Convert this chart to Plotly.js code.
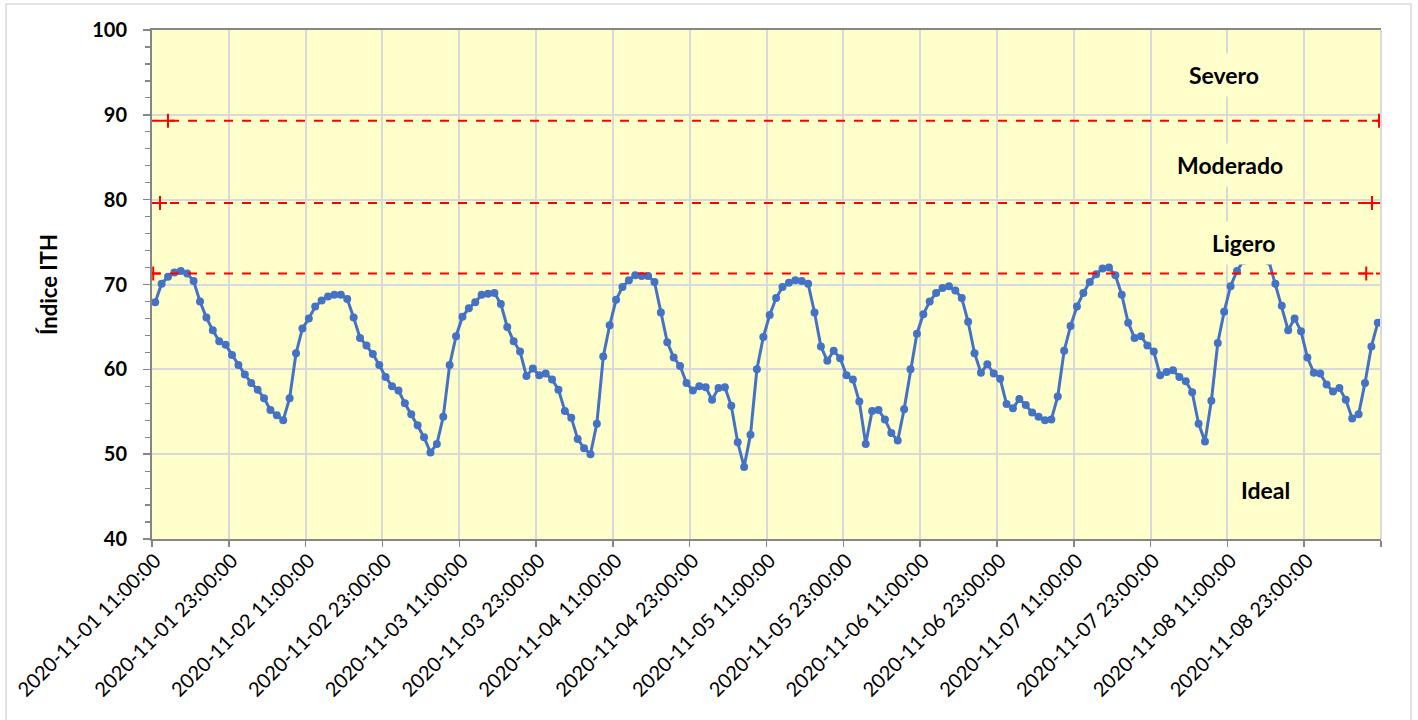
<!DOCTYPE html>
<html>
<head>
<meta charset="utf-8">
<script src="https://cdn.plot.ly/plotly-3.0.1.min.js"></script>
<style>
  html, body { margin: 0; padding: 0; background: #ffffff; }
  #chart { width: 1418px; height: 720px; }
</style>
</head>
<body>
<div id="chart"></div>
<script>
// ---- Data ----
const startTime = "2020-11-01 11:00:00";
const nHours = 192;

// Hourly ITH values
const ith = [
  67.9, 70.1, 70.9, 71.4, 71.6, 71.3, 70.4, 68.0, 66.1, 64.6, 63.3, 62.9, 61.7, 60.5, 59.4, 58.4, 57.6, 56.6, 55.2, 54.6, 54.0, 56.6, 61.9, 64.8,
  66.0, 67.4, 68.1, 68.6, 68.8, 68.8, 68.3, 66.1, 63.7, 62.8, 61.8, 60.5, 59.1, 58.0, 57.5, 56.0, 54.7, 53.4, 52.0, 50.2, 51.2, 54.4, 60.5, 63.9,
  66.2, 67.2, 67.9, 68.8, 68.9, 69.0, 67.7, 65.0, 63.3, 62.1, 59.2, 60.1, 59.3, 59.5, 58.8, 57.6, 55.1, 54.3, 51.8, 50.7, 50.0, 53.6, 61.5, 65.2,
  68.2, 69.7, 70.5, 71.1, 71.0, 71.0, 70.3, 66.7, 63.2, 61.4, 60.4, 58.4, 57.5, 58.0, 57.9, 56.4, 57.8, 57.9, 55.7, 51.4, 48.5, 52.3, 60.0, 63.8,
  66.4, 68.4, 69.7, 70.2, 70.5, 70.4, 70.1, 66.7, 62.7, 61.0, 62.2, 61.3, 59.3, 58.8, 56.2, 51.2, 55.1, 55.2, 54.1, 52.5, 51.6, 55.3, 60.0, 64.2,
  66.5, 68.0, 69.0, 69.6, 69.8, 69.3, 68.4, 65.6, 61.9, 59.6, 60.6, 59.5, 58.9, 55.9, 55.4, 56.5, 55.8, 54.9, 54.4, 54.0, 54.1, 56.8, 62.2, 65.1,
  67.4, 69.0, 70.3, 71.2, 71.9, 72.0, 71.1, 68.8, 65.5, 63.7, 63.9, 62.8, 62.1, 59.3, 59.7, 59.9, 59.1, 58.6, 57.3, 53.6, 51.5, 56.3, 63.1, 66.8,
  69.8, 71.6, 72.8, 74.0, 74.3, 73.9, 72.7, 70.1, 67.5, 64.6, 66.0, 64.5, 61.4, 59.6, 59.5, 58.2, 57.4, 57.8, 56.4, 54.2, 54.7, 58.4, 62.7, 65.5
];

// Threshold lines (ITH) and zone labels
const thresholds = [71.3, 79.6, 89.3];
const zoneLabels = ["Severo", "Moderado", "Ligero", "Ideal"];
const zoneLabelY = [94.7, 84.1, 74.9, 45.8];
const yTitle = "Índice ITH";

// ---- Category labels (hourly timestamps) ----
function pad(n) { return (n < 10 ? "0" : "") + n; }
const categories = [];
{
  const t0 = new Date(startTime.replace(" ", "T") + "Z");
  for (let i = 0; i < nHours; i++) {
    const d = new Date(t0.getTime() + i * 3600000);
    categories.push(d.getUTCFullYear() + "-" + pad(d.getUTCMonth() + 1) + "-" + pad(d.getUTCDate()) +
      " " + pad(d.getUTCHours()) + ":00:00");
  }
}

// ---- Styles ----
const blue = "#4472C4";
const gridC = "#d9d9d9";
const axisC = "#868686";
const bgYellow = "#FFFFCC";
const fontFam = "Lato, 'Open Sans', sans-serif";
const markerInsetLeft = [0.001, 0.0065, 0.013];
const markerInsetRight = [0.012, 0.0073, 0.0016];
const zoneX = [0.872, 0.877, 0.888, 0.906];

const traces = [{
  type: "scatter",
  mode: "lines+markers",
  x: categories,
  y: ith,
  line: { color: blue, width: 3 },
  marker: { color: blue, size: 8, symbol: "circle" },
  showlegend: false,
  hoverinfo: "x+y"
}];

thresholds.forEach((v, k) => {
  traces.push({
    type: "scatter", mode: "lines", xaxis: "x2", yaxis: "y",
    x: [0, 1], y: [v, v],
    line: { color: "#FF0000", width: 2, dash: "dash" },
    showlegend: false, hoverinfo: "skip"
  });
  traces.push({
    type: "scatter", mode: "markers", xaxis: "x2", yaxis: "y",
    x: [markerInsetLeft[k], 1 - markerInsetRight[k]], y: [v, v],
    marker: { color: "#FF0000", size: 10, symbol: "cross-thin-open", line: { color: "#FF0000", width: 2 } },
    showlegend: false, hoverinfo: "skip"
  });
});

const annotations = zoneLabels.map((t, k) => ({
  xref: "paper", yref: "y", x: zoneX[k], y: zoneLabelY[k],
  text: t, showarrow: false,
  font: { family: fontFam, size: 23, color: "#000000", weight: "bold" },
  bgcolor: bgYellow, borderpad: 7, xanchor: "center", yanchor: "middle"
}));

const layout = {
  width: 1418, height: 720,
  margin: { l: 152, r: 37, t: 30, b: 181, pad: 0 },
  paper_bgcolor: "#ffffff",
  plot_bgcolor: bgYellow,
  showlegend: false,
  xaxis: {
    type: "category",
    range: [-0.5, nHours - 0.5],
    tickmode: "linear", tick0: 0, dtick: 12,
    tickson: "boundaries",
    showgrid: true, gridcolor: gridC, gridwidth: 2,
    showline: true, linecolor: axisC, linewidth: 2, mirror: true,
    ticks: "outside", ticklen: 6, tickcolor: axisC, tickwidth: 1.5,
    tickangle: -45,
    tickfont: { family: fontFam, size: 20, color: "#000000" },
    zeroline: false
  },
  xaxis2: { overlaying: "x", range: [0, 1], visible: false, fixedrange: true },
  yaxis: {
    range: [40, 100],
    tickmode: "linear", tick0: 40, dtick: 10,
    showgrid: true, gridcolor: gridC, gridwidth: 2,
    showline: true, linecolor: axisC, linewidth: 2,
    ticks: "outside", ticklen: 7, tickcolor: axisC, tickwidth: 1.5,
    minor: { dtick: 2, ticks: "outside", ticklen: 5, tickcolor: axisC, tickwidth: 1.2, showgrid: false },
    tickfont: { family: fontFam, size: 20, color: "#000000", weight: "bold" },
    ticklabelstandoff: 12,
    zeroline: false,
    automargin: true,
    title: { text: yTitle, standoff: 28,
      font: { family: fontFam, size: 22, color: "#000000", weight: "bold" } }
  },
  annotations: annotations,
  shapes: [
    { type: "line", xref: "paper", yref: "paper", x0: 1, x1: 1, y0: 0, y1: 1,
      line: { color: gridC, width: 2 } },
    { type: "rect", xref: "paper", yref: "paper", x0: -0.1188, x1: 1.0244, y0: -0.4, y1: 1.051,
      line: { color: "#d9d9d9", width: 1.5 }, fillcolor: "rgba(0,0,0,0)", layer: "below" }
  ]
};

Plotly.newPlot("chart", traces, layout, { displayModeBar: false, staticPlot: true });
</script>
</body>
</html>
